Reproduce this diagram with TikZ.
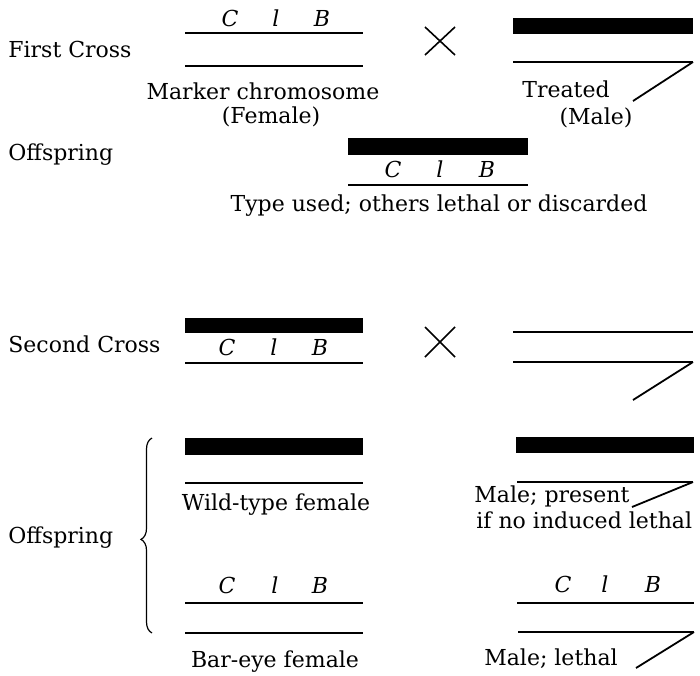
\documentclass[tikz,border=0pt]{standalone}
\usepackage{fontspec}
\setmainfont{DejaVu Serif}
\usetikzlibrary{decorations.pathreplacing}
\begin{document}
\begin{tikzpicture}[x=0.5pt,y=-0.5pt,
  chrom/.style={line width=1pt},
  cbar/.style={fill=black,draw=none},
  diag/.style={line width=0.9pt},
  crossmark/.style={line width=0.8pt},
  lbl/.style={anchor=base west,inner sep=0pt,font=\fontsize{11pt}{13pt}\selectfont},
  clbl/.style={lbl,anchor=base},
  gene/.style={anchor=base,inner sep=0pt,font=\fontsize{11pt}{13pt}\selectfont\itshape}]
\useasboundingbox (0,0) rectangle (700,675);

% ---------- First cross ----------
\node[lbl] (fc) at (8,57) {First Cross};
% female marker chromosome
\draw[chrom] (185,33) -- (363,33);
\draw[chrom] (185,66) -- (363,66);
\node[gene] (c1) at (230,26) {C};
\node[gene] (l1) at (276,26) {l};
\node[gene] (b1) at (322,26) {B};
\node[clbl] (mk) at (263,99) {Marker chromosome};
\node[clbl] (fem) at (271,123) {(Female)};
% cross sign
\draw[crossmark] (425,27) -- (455,55) (425,55) -- (455,27);
% treated male
\fill[cbar] (513,18) rectangle (693,34);
\draw[chrom] (513,62) -- (693,62);
\coordinate (m1a) at (693,62);
\coordinate (m1b) at (633,101);
\draw[diag] (m1a) -- (m1b);
\node[clbl] (tr) at (566,97) {Treated};
\node[clbl] (ml) at (596,124) {(Male)};

% offspring
\node[lbl] (of1) at (8,160) {Offspring};
\fill[cbar] (348,138) rectangle (528,155);
\draw[chrom] (348,185) -- (528,185);
\node[gene] (c2) at (393,177) {C};
\node[gene] (l2) at (440,177) {l};
\node[gene] (b2) at (487,177) {B};
\node[clbl] (tu) at (439,211) {Type used; others lethal or discarded};

% ---------- Second cross ----------
\node[lbl] (sc) at (8,352) {Second Cross};
\fill[cbar] (185,318) rectangle (363,333);
\draw[chrom] (185,363) -- (363,363);
\node[gene] (c3) at (227,355) {C};
\node[gene] (l3) at (274,355) {l};
\node[gene] (b3) at (320,355) {B};
\draw[crossmark] (425,327) -- (455,357) (425,357) -- (455,327);
\draw[chrom] (513,332) -- (693,332);
\draw[chrom] (513,362) -- (693,362);
\coordinate (m2a) at (693,362);
\coordinate (m2b) at (633,400);
\draw[diag] (m2a) -- (m2b);

% offspring of second cross
\node[lbl] (of2) at (8,543) {Offspring};
\coordinate (brtop) at (152,438);
\coordinate (brbot) at (152,633);
\draw[line width=0.6pt,decorate,decoration={brace,amplitude=5.5pt,aspect=0.48}] (brbot) -- (brtop);

% wild-type female
\fill[cbar] (185,438) rectangle (363,455);
\draw[chrom] (185,483) -- (363,483);
\node[clbl] (wt) at (276,510) {Wild-type female};

% male present
\fill[cbar] (516,437) rectangle (694,453);
\draw[chrom] (517,482) -- (693,482);
\coordinate (m3a) at (693,482);
\coordinate (m3b) at (632,507);
\draw[diag] (m3a) -- (m3b);
\node[lbl] (mp) at (474,502) {Male; present};
\node[lbl] (mp2) at (476,528) {if no induced lethal};

% bar-eye female
\draw[chrom] (185,603) -- (363,603);
\draw[chrom] (185,633) -- (363,633);
\node[gene] (c4) at (227,593) {C};
\node[gene] (l4) at (275,593) {l};
\node[gene] (b4) at (320,593) {B};
\node[clbl] (be) at (275,667) {Bar-eye female};

% male lethal
\draw[chrom] (517,603) -- (694,603);
\draw[chrom] (518,632) -- (694,632);
\node[gene] (c5) at (563,592) {C};
\node[gene] (l5) at (605,592) {l};
\node[gene] (b5) at (653,592) {B};
\coordinate (m4a) at (694,632);
\coordinate (m4b) at (636,668);
\draw[diag] (m4a) -- (m4b);
\node[clbl] (mlt) at (551,665) {Male; lethal};
\end{tikzpicture}
\end{document}
